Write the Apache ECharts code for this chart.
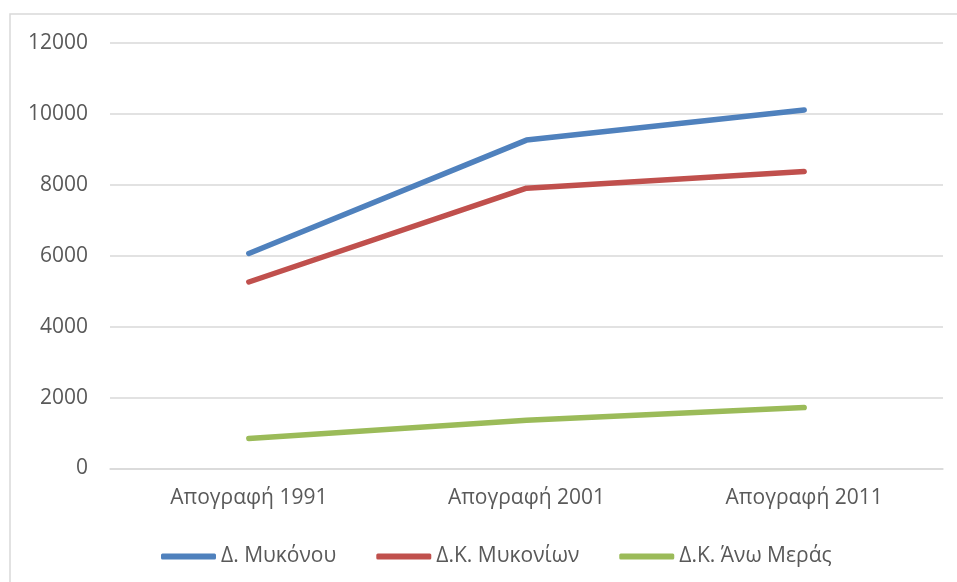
<!DOCTYPE html>
<html>
<head>
<meta charset="utf-8">
<script src="https://cdn.jsdelivr.net/npm/echarts@6/dist/echarts.min.js"></script>
<style>
html,body{margin:0;padding:0;background:#fff;}
#chart{width:957px;height:582px;}
</style>
</head>
<body>
<div id="chart"></div>
<script>
const categories = ['Απογραφή 1991', 'Απογραφή 2001', 'Απογραφή 2011'];
const seriesNames = ['Δ. Μυκόνου', 'Δ.Κ. Μυκονίων', 'Δ.Κ. Άνω Μεράς'];
const dMykonou = [6065, 9262, 10113];
const dkMykonion = [5260, 7905, 8378];
const dkAnoMeras = [845, 1362, 1718];
const colors = ['#4f81bd', '#c0504d', '#9bbb59'];

const FONT = '"Open Sans", "Noto Sans", sans-serif';
const FS = 21;
const chart = echarts.init(document.getElementById('chart'), null, {renderer: 'canvas'});
const dataSets = [dMykonou, dkMykonion, dkAnoMeras];

chart.setOption({
  animation: false,
  backgroundColor: '#ffffff',
  color: colors,
  graphic: [{
    type: 'rect',
    shape: {x: 10, y: 14, width: 1000, height: 1000},
    style: {fill: 'none', stroke: '#d9d9d9', lineWidth: 1.5},
    silent: true
  }],
  grid: {left: 110, right: 14, top: 43, bottom: 113.5, containLabel: false},
  legend: {
    top: 541,
    left: 156,
    itemWidth: 55,
    itemHeight: 6,
    itemGap: 40,
    icon: 'roundRect',
    textStyle: {color: '#595959', fontSize: FS, fontFamily: FONT},
    data: seriesNames
  },
  xAxis: {
    type: 'category',
    data: categories,
    boundaryGap: true,
    axisLine: {show: true, lineStyle: {color: '#d9d9d9', width: 1.5}},
    axisTick: {show: false},
    axisLabel: {color: '#595959', fontSize: FS, fontFamily: FONT, margin: 19}
  },
  yAxis: {
    type: 'value',
    min: 0,
    max: 12000,
    interval: 2000,
    axisLine: {show: false},
    axisTick: {show: false},
    splitLine: {lineStyle: {color: '#d9d9d9', width: 1.5}},
    axisLabel: {color: '#595959', fontSize: FS, fontFamily: FONT, margin: 22,
      formatter: v => String(v)}
  },
  series: seriesNames.map((name, i) => ({
    name: name,
    type: 'line',
    data: dataSets[i],
    symbol: 'none',
    lineStyle: {width: 5.5, color: colors[i], cap: 'round', join: 'round'},
    itemStyle: {color: colors[i]}
  }))
});
</script>
</body>
</html>
